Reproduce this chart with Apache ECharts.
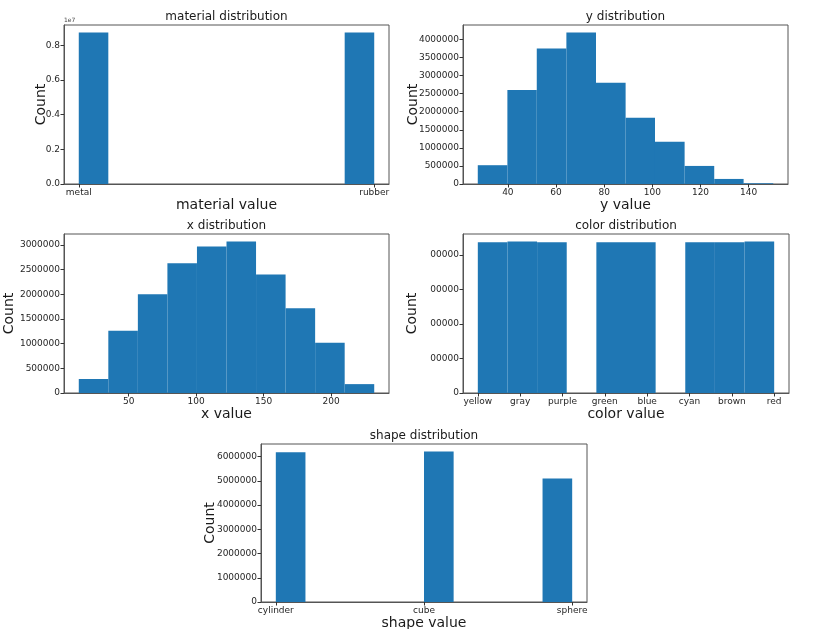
<!DOCTYPE html>
<html>
<head>
<meta charset="utf-8">
<script src="https://cdn.jsdelivr.net/npm/echarts@6/dist/echarts.min.js"></script>
<style>
  html, body { margin: 0; padding: 0; background: #fff; }
  #chart { width: 830px; height: 629px; }
</style>
</head>
<body>
<div id="chart"></div>
<script>
// histogram data
var materialLabels = ['metal', 'rubber'];
var materialTicks = [0, 1];
var materialEdges = [0, 0.1, 0.2, 0.3, 0.4, 0.5, 0.6, 0.7, 0.8, 0.9, 1.0];
var materialCounts = [8740000, 0, 0, 0, 0, 0, 0, 0, 0, 8740000];
var materialYTicks = [0, 2000000, 4000000, 6000000, 8000000];

var yTicks = [40, 60, 80, 100, 120, 140];
var yEdges = [27.5, 39.8, 52.0, 64.3, 76.6, 88.9, 101.1, 113.4, 125.7, 137.9, 150.2];
var yCounts = [520000, 2600000, 3750000, 4190000, 2800000, 1830000, 1170000, 500000, 140000, 20000];
var yYTicks = [0, 500000, 1000000, 1500000, 2000000, 2500000, 3000000, 3500000, 4000000];

var xTicks = [50, 100, 150, 200];
var xEdges = [13.0, 34.9, 56.8, 78.7, 100.6, 122.5, 144.4, 166.3, 188.2, 210.1, 232.0];
var xCounts = [284000, 1260000, 2000000, 2630000, 2970000, 3070000, 2400000, 1720000, 1020000, 180000];
var xYTicks = [0, 500000, 1000000, 1500000, 2000000, 2500000, 3000000];

var colorLabels = ['yellow', 'gray', 'purple', 'green', 'blue', 'cyan', 'brown', 'red'];
var colorTicks = [0, 1, 2, 3, 4, 5, 6, 7];
var colorEdges = [0, 0.7, 1.4, 2.1, 2.8, 3.5, 4.2, 4.9, 5.6, 6.3, 7.0];
var colorCounts = [2185000, 2195000, 2185000, 0, 2186000, 2185000, 0, 2186000, 2185000, 2195000];
var colorYTicks = [0, 500000, 1000000, 1500000, 2000000];

var shapeLabels = ['cylinder', 'cube', 'sphere'];
var shapeTicks = [0, 1, 2];
var shapeEdges = [0, 0.2, 0.4, 0.6, 0.8, 1.0, 1.2, 1.4, 1.6, 1.8, 2.0];
var shapeCounts = [6180000, 0, 0, 0, 0, 6210000, 0, 0, 0, 5100000];
var shapeYTicks = [0, 1000000, 2000000, 3000000, 4000000, 5000000, 6000000];

var FONT = 'DejaVu Sans';
var BLUE = '#1f77b4';
var SPINE = '#555';
var TICK_TEXT = '#262626';

var panels = [
  { title: 'material distribution', xName: 'material value', box: [64, 25, 325, 159], countGap: 16,
    edges: materialEdges, counts: materialCounts, xt: materialTicks, xl: materialLabels,
    yt: materialYTicks, yfmt: function (v) { return (v / 1e7).toFixed(1); } },
  { title: 'y distribution', xName: 'y value', box: [463, 25, 325, 159], countGap: 43,
    edges: yEdges, counts: yCounts, xt: yTicks, xl: null,
    yt: yYTicks, yfmt: function (v) { return String(v); } },
  { title: 'x distribution', xName: 'x value', box: [64, 234, 325, 159], countGap: 48,
    edges: xEdges, counts: xCounts, xt: xTicks, xl: null,
    yt: xYTicks, yfmt: function (v) { return String(v); } },
  { title: 'color distribution', xName: 'color value', box: [463, 234, 326, 159], countGap: 44,
    edges: colorEdges, counts: colorCounts, xt: colorTicks, xl: colorLabels,
    yt: colorYTicks, yfmt: function (v) { return String(v).slice(-5); } },
  { title: 'shape distribution', xName: 'shape value', box: [261, 444, 326, 158], countGap: 44,
    edges: shapeEdges, counts: shapeCounts, xt: shapeTicks, xl: shapeLabels,
    yt: shapeYTicks, yfmt: function (v) { return String(v); } }
];

function renderBin(params, api) {
  var c = api.value(2);
  if (!c) return;
  var p0 = api.coord([api.value(0), c]);
  var p1 = api.coord([api.value(1), 0]);
  return {
    type: 'rect',
    shape: { x: p0[0], y: p0[1], width: p1[0] - p0[0], height: p1[1] - p0[1] },
    style: { fill: BLUE }
  };
}

var grids = [], xAxes = [], yAxes = [], series = [], graphics = [];

panels.forEach(function (p, i) {
  var lo = p.edges[0], hi = p.edges[p.edges.length - 1];
  var pad = (hi - lo) * 0.05;
  var ymax = Math.max.apply(null, p.counts) * 1.05;

  grids.push({
    left: p.box[0], top: p.box[1], width: p.box[2], height: p.box[3],
    show: true, borderColor: SPINE, borderWidth: 1, backgroundColor: '#fff',
    containLabel: false, outerBoundsMode: 'none'
  });

  xAxes.push({
    type: 'value', gridIndex: i, min: lo - pad, max: hi + pad, z: 5,
    splitLine: { show: false },
    axisLine: { show: true, onZero: false, lineStyle: { color: SPINE, width: 1 } },
    axisTick: { show: true, inside: false, length: 3.5, customValues: p.xt, lineStyle: { color: '#333' } },
    axisLabel: {
      customValues: p.xt, margin: 4, fontFamily: FONT, fontSize: 9, color: TICK_TEXT,
      formatter: p.xl ? function (v) { return p.xl[Math.round(v)]; } : function (v) { return String(v); }
    },
    name: p.xName, nameLocation: 'middle', nameGap: 14, nameMoveOverlap: false,
    nameTextStyle: { fontFamily: FONT, fontSize: 14, color: '#1a1a1a' }
  });

  yAxes.push({
    type: 'value', gridIndex: i, min: 0, max: ymax, z: 5,
    splitLine: { show: false },
    axisLine: { show: true, onZero: false, lineStyle: { color: SPINE, width: 1 } },
    axisTick: { show: true, inside: false, length: 3.5, customValues: p.yt, lineStyle: { color: '#333' } },
    axisLabel: { customValues: p.yt, margin: 4, fontFamily: FONT, fontSize: 9, color: TICK_TEXT, formatter: p.yfmt },
    name: 'Count', nameLocation: 'middle', nameRotate: 90, nameGap: p.countGap, nameMoveOverlap: false,
    nameTextStyle: { fontFamily: FONT, fontSize: 14, color: '#1a1a1a' }
  });

  var data = [];
  for (var k = 0; k < p.counts.length; k++) {
    data.push([p.edges[k], p.edges[k + 1], p.counts[k]]);
  }
  series.push({
    type: 'custom', xAxisIndex: i, yAxisIndex: i,
    renderItem: renderBin, encode: { x: [0, 1], y: 2 },
    data: data, silent: true, animation: false
  });

  graphics.push({
    type: 'text', x: p.box[0] + p.box[2] / 2, y: p.box[1] - 8,
    style: {
      text: p.title, fill: '#1a1a1a', font: '12px "' + FONT + '"',
      align: 'center', verticalAlign: 'middle', textAlign: 'center', textVerticalAlign: 'middle'
    }
  });
});

// scale offset text of the first panel
graphics.push({
  type: 'text', x: 64, y: 20,
  style: { text: '1e7', fill: '#444', font: '6px "' + FONT + '"', align: 'left', verticalAlign: 'middle' }
});

var myChart = echarts.init(document.getElementById('chart'));
myChart.setOption({
  animation: false,
  backgroundColor: '#fff',
  grid: grids,
  xAxis: xAxes,
  yAxis: yAxes,
  series: series,
  graphic: graphics
});
</script>
</body>
</html>
